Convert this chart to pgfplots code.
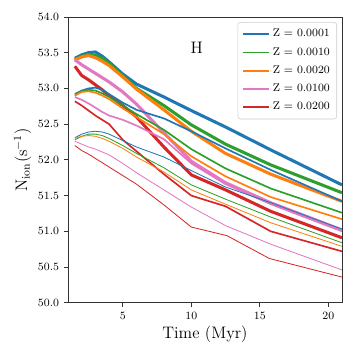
\documentclass[border=0pt]{standalone}
\usepackage{pgfplots}
\pgfplotsset{compat=1.18}

\definecolor{cblue}{HTML}{1F77B4}
\definecolor{cgreen}{HTML}{2CA02C}
\definecolor{corange}{HTML}{FF7F0E}
\definecolor{cpink}{HTML}{E377C2}
\definecolor{cred}{HTML}{D62728}

\begin{document}
\begin{tikzpicture}
\begin{axis}[
  name=ax, at={(0,0)}, anchor=south west,
  scale only axis, width=197.3pt, height=205.9pt,
  xmin=1, xmax=21, ymin=50, ymax=54,
  xtick={5,10,15,20}, ytick={50,50.5,...,54},
  yticklabel style={/pgf/number format/fixed, /pgf/number format/fixed zerofill, /pgf/number format/precision=1},
  ticklabel style={font=\footnotesize}, scaled y ticks=false,
  tick align=outside, xtick pos=bottom, ytick pos=left,
  major tick length=3pt, tick style={black!80, line width=0.6pt},
  axis line style={black!80, line width=0.6pt},
  xlabel={Time (Myr)}, xlabel style={font=\large, yshift=2pt},
  ylabel={$\mathrm{N_{ion}(s^{-1})}$}, ylabel style={font=\large, yshift=-2pt},
  legend style={at={(0.982,0.982)}, anchor=north east, font=\footnotesize, draw=black!20, fill=white, rounded corners=2pt, row sep=2.2pt, inner sep=3pt},
  legend cell align=left,
  legend image code/.code={\draw[#1] (0pt,0pt) -- (19pt,0pt);},
  every axis plot/.append style={line join=round},
]
% thick set
\addplot[cblue, line width=2.2pt, forget plot] coordinates {(1.5,53.42) (2,53.47) (2.5,53.50) (3,53.51) (3.5,53.45) (4,53.37) (5,53.20) (6,53.06) (8,52.88) (10,52.69) (12.5,52.46) (15.8,52.14) (21,51.65)};
\addplot[cgreen, line width=2.2pt, forget plot] coordinates {(1.5,53.40) (2,53.45) (2.5,53.48) (3,53.46) (3.5,53.42) (4,53.35) (5,53.18) (6,53.00) (8,52.76) (10,52.49) (12.5,52.22) (15.8,51.93) (21,51.54)};
\addplot[corange, line width=2.2pt, forget plot] coordinates {(1.5,53.40) (2,53.44) (2.5,53.46) (3,53.43) (3.5,53.38) (4,53.32) (5,53.16) (6,52.99) (8,52.70) (10,52.40) (12.5,52.09) (15.8,51.80) (21,51.42)};
\addplot[cpink, line width=2.2pt, forget plot] coordinates {(1.5,53.40) (2,53.33) (2.5,53.27) (3,53.21) (3.5,53.15) (4,53.09) (5,52.95) (6,52.78) (8,52.38) (10,51.98) (12.5,51.68) (15.8,51.40) (21,51.02)};
\addplot[cred, line width=2.2pt, forget plot] coordinates {(1.5,53.31) (2,53.18) (2.5,53.12) (3,53.05) (3.5,52.98) (4,52.90) (5,52.76) (6,52.60) (8,52.18) (10,51.79) (12.5,51.58) (15.8,51.28) (21,50.91)};
% medium set
\addplot[cblue, line width=1.2pt, forget plot] coordinates {(1.5,52.92) (2,52.97) (2.5,53.00) (3,53.01) (3.5,52.98) (4,52.92) (5,52.80) (6,52.70) (8,52.58) (10,52.40) (12.5,52.16) (15.8,51.86) (21,51.42)};
\addplot[cgreen, line width=1.2pt, forget plot] coordinates {(1.5,52.90) (2,52.96) (2.5,52.98) (3,52.97) (3.5,52.93) (4,52.88) (5,52.76) (6,52.64) (8,52.42) (10,52.15) (12.5,51.88) (15.8,51.60) (21,51.26)};
\addplot[corange, line width=1.2pt, forget plot] coordinates {(1.5,52.90) (2,52.95) (2.5,52.96) (3,52.94) (3.5,52.90) (4,52.85) (5,52.72) (6,52.60) (8,52.36) (10,52.05) (12.5,51.77) (15.8,51.48) (21,51.17)};
\addplot[cpink, line width=1.2pt, forget plot] coordinates {(1.5,52.88) (2,52.84) (2.5,52.79) (3,52.73) (3.5,52.67) (4,52.62) (5,52.56) (6,52.48) (8,52.29) (10,51.95) (12.5,51.66) (15.8,51.38) (21,51.00)};
\addplot[cred, line width=1.2pt, forget plot] coordinates {(1.5,52.82) (2,52.76) (2.5,52.69) (3,52.62) (3.5,52.56) (4,52.50) (5,52.28) (6,52.12) (8,51.80) (10,51.50) (12.5,51.35) (15.8,51.00) (21,50.72)};
% thin set
\addplot[cblue, line width=0.6pt, forget plot] coordinates {(1.5,52.31) (2,52.36) (2.5,52.39) (3,52.40) (3.5,52.39) (4,52.36) (5,52.27) (6,52.18) (8,52.04) (10,51.85) (12.5,51.62) (15.8,51.40) (21,51.03)};
\addplot[cgreen, line width=0.6pt, forget plot] coordinates {(1.5,52.28) (2,52.33) (2.5,52.36) (3,52.36) (3.5,52.34) (4,52.30) (5,52.20) (6,52.09) (8,51.89) (10,51.65) (12.5,51.45) (15.8,51.20) (21,50.84)};
\addplot[corange, line width=0.6pt, forget plot] coordinates {(1.5,52.30) (2,52.33) (2.5,52.34) (3,52.33) (3.5,52.30) (4,52.26) (5,52.16) (6,52.04) (8,51.83) (10,51.58) (12.5,51.38) (15.8,51.12) (21,50.79)};
\addplot[cpink, line width=0.6pt, forget plot] coordinates {(1.5,52.26) (2,52.22) (2.5,52.18) (3,52.15) (3.5,52.11) (4,52.07) (5,51.95) (6,51.82) (8,51.58) (10,51.34) (12.5,51.08) (15.8,50.82) (21,50.46)};
\addplot[cred, line width=0.6pt, forget plot] coordinates {(1.5,52.20) (2,52.13) (2.5,52.08) (3,52.02) (3.5,51.96) (4,51.90) (5,51.78) (6,51.66) (8,51.37) (10,51.06) (12.6,50.94) (15.7,50.62) (21,50.36)};
% legend
\addlegendimage{cblue, line width=1.2pt}\addlegendentry{Z = 0.0001}
\addlegendimage{cgreen, line width=1.2pt}\addlegendentry{Z = 0.0010}
\addlegendimage{corange, line width=1.2pt}\addlegendentry{Z = 0.0020}
\addlegendimage{cpink, line width=1.2pt}\addlegendentry{Z = 0.0100}
\addlegendimage{cred, line width=1.2pt}\addlegendentry{Z = 0.0200}
\node[font=\large] at (axis cs:10.4,53.57) {H};
\end{axis}
\path (-49pt,-41pt) rectangle (210.3pt,218.1pt);
\end{tikzpicture}
\end{document}
